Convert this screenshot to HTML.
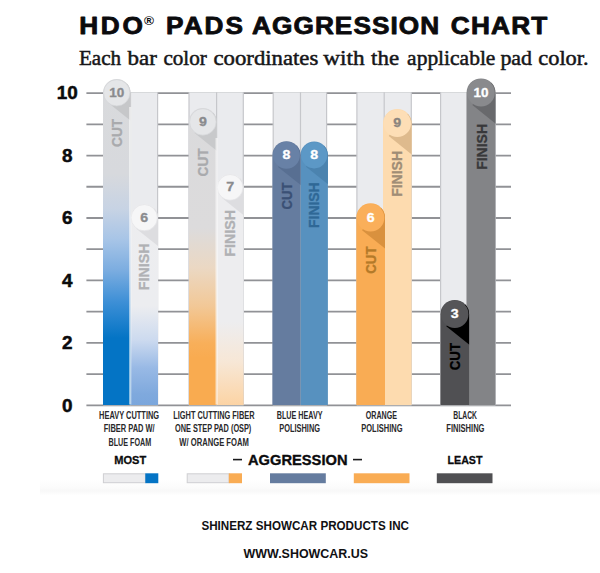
<!DOCTYPE html>
<html lang="en">
<head>
<meta charset="utf-8">
<title>HDO Pads Aggression Chart</title>
<style>
html, body { margin: 0; padding: 0; background: #ffffff; }
body { width: 600px; height: 573px; overflow: hidden; font-family: "Liberation Sans", sans-serif; }
svg text { white-space: pre; }
</style>
</head>
<body>
<svg width="600" height="573" viewBox="0 0 600 573" style="display:block">
<defs>
<linearGradient id="band" x1="0" y1="0" x2="0" y2="1">
<stop offset="0" stop-color="#ffffff"/><stop offset="0.45" stop-color="#fcfcfc"/>
<stop offset="0.72" stop-color="#f8f8f8"/><stop offset="1" stop-color="#ffffff"/></linearGradient>
<linearGradient id="g1c" gradientUnits="userSpaceOnUse" x1="0" y1="0" x2="0" y2="573"><stop offset="0.1379" stop-color="#d9dadc"/><stop offset="0.3037" stop-color="#d7d9dd"/><stop offset="0.3647" stop-color="#c7d3e4"/><stop offset="0.4171" stop-color="#a8c5e7"/><stop offset="0.4712" stop-color="#7cade0"/><stop offset="0.5271" stop-color="#3d8fd6"/><stop offset="0.5899" stop-color="#0474c5"/><stop offset="0.7086" stop-color="#0474c5"/></linearGradient>
<linearGradient id="g1f" gradientUnits="userSpaceOnUse" x1="0" y1="0" x2="0" y2="573"><stop offset="0.3560" stop-color="#ededef"/><stop offset="0.5340" stop-color="#ecedf0"/><stop offset="0.5934" stop-color="#ccdaef"/><stop offset="0.6422" stop-color="#98b9e5"/><stop offset="0.6876" stop-color="#7fa9dd"/><stop offset="0.7086" stop-color="#7aa6dc"/></linearGradient>
<linearGradient id="g2c" gradientUnits="userSpaceOnUse" x1="0" y1="0" x2="0" y2="573"><stop offset="0.1885" stop-color="#dadadc"/><stop offset="0.3979" stop-color="#dcdbdc"/><stop offset="0.4677" stop-color="#ebd8c3"/><stop offset="0.5340" stop-color="#f2c897"/><stop offset="0.5986" stop-color="#f8af5a"/><stop offset="0.6248" stop-color="#f9ab50"/><stop offset="0.7086" stop-color="#f9ab50"/></linearGradient>
<linearGradient id="g2f" gradientUnits="userSpaceOnUse" x1="0" y1="0" x2="0" y2="573"><stop offset="0.3002" stop-color="#ededef"/><stop offset="0.5620" stop-color="#ededef"/><stop offset="0.6318" stop-color="#f7e7d6"/><stop offset="0.7086" stop-color="#fcd3a3"/></linearGradient>
<clipPath id="cp_g1f"><path d="M130.50,404.90 L130.50,217.70 A13.75,13.75 0 0 1 158.00,217.70 L158.00,404.90 Z"/></clipPath>
<clipPath id="cp_g1c"><path d="M103.00,404.90 L103.00,92.80 A13.75,13.75 0 0 1 130.50,92.80 L130.50,404.90 Z"/></clipPath>
<clipPath id="cp_g2f"><path d="M216.60,404.90 L216.60,187.40 A13.50,13.50 0 0 1 243.60,187.40 L243.60,404.90 Z"/></clipPath>
<clipPath id="cp_g2c"><path d="M189.00,404.90 L189.00,121.90 A13.85,13.85 0 0 1 216.70,121.90 L216.70,404.90 Z"/></clipPath>
<clipPath id="cp_g3f"><path d="M300.50,404.90 L300.50,155.30 A13.70,13.70 0 0 1 327.90,155.30 L327.90,404.90 Z"/></clipPath>
<clipPath id="cp_g3c"><path d="M272.40,404.90 L272.40,155.30 A14.05,14.05 0 0 1 300.50,155.30 L300.50,404.90 Z"/></clipPath>
<clipPath id="cp_g4f"><path d="M383.00,404.90 L383.00,123.40 A14.30,14.30 0 0 1 411.60,123.40 L411.60,404.90 Z"/></clipPath>
<clipPath id="cp_g4c"><path d="M356.30,404.90 L356.30,217.70 A14.35,14.35 0 0 1 385.00,217.70 L385.00,404.90 Z"/></clipPath>
<clipPath id="cp_g5f"><path d="M466.60,404.90 L466.60,92.80 A14.40,14.40 0 0 1 495.40,92.80 L495.40,404.90 Z"/></clipPath>
<clipPath id="cp_g5c"><path d="M440.50,404.90 L440.50,314.20 A14.30,14.30 0 0 1 469.10,314.20 L469.10,404.90 Z"/></clipPath>
</defs>
<rect x="0" y="0" width="600" height="573" fill="#ffffff"/>
<rect x="40" y="479" width="560" height="16.5" fill="url(#band)"/>
<g transform="translate(79.2,33.9) scale(1.13,1)"><text x="0" y="0" font-family='"Liberation Sans", sans-serif' font-weight="700" font-size="23.2" fill="#0b0b0d" stroke="#0b0b0d" stroke-width="0.8" stroke-linejoin="round" textLength="56.4" lengthAdjust="spacing">HDO</text></g>
<g transform="translate(166.1,33.9) scale(1.13,1)"><text x="0" y="0" font-family='"Liberation Sans", sans-serif' font-weight="700" font-size="23.2" fill="#0b0b0d" stroke="#0b0b0d" stroke-width="0.8" stroke-linejoin="round" textLength="68.1" lengthAdjust="spacing">PADS</text></g>
<g transform="translate(252.1,33.9) scale(1.13,1)"><text x="0" y="0" font-family='"Liberation Sans", sans-serif' font-weight="700" font-size="23.2" fill="#0b0b0d" stroke="#0b0b0d" stroke-width="0.8" stroke-linejoin="round" textLength="165.5" lengthAdjust="spacing">AGGRESSION</text></g>
<g transform="translate(450.8,33.9) scale(1.13,1)"><text x="0" y="0" font-family='"Liberation Sans", sans-serif' font-weight="700" font-size="23.2" fill="#0b0b0d" stroke="#0b0b0d" stroke-width="0.8" stroke-linejoin="round" textLength="85.4" lengthAdjust="spacing">CHART</text></g>
<text x="144.0" y="25.4" font-family='"Liberation Sans", sans-serif' font-weight="700" font-size="12.6" fill="#0b0b0d" textLength="10" lengthAdjust="spacingAndGlyphs">&#174;</text>
<text x="78.9" y="65.0" font-family='"Liberation Serif", serif' font-size="21.5" fill="#161618" stroke="#161618" stroke-width="0.5" textLength="42.2" lengthAdjust="spacingAndGlyphs">Each</text>
<text x="127.6" y="65.0" font-family='"Liberation Serif", serif' font-size="21.5" fill="#161618" stroke="#161618" stroke-width="0.5" textLength="29.3" lengthAdjust="spacingAndGlyphs">bar</text>
<text x="163.4" y="65.0" font-family='"Liberation Serif", serif' font-size="21.5" fill="#161618" stroke="#161618" stroke-width="0.5" textLength="43.5" lengthAdjust="spacingAndGlyphs">color</text>
<text x="213.5" y="65.0" font-family='"Liberation Serif", serif' font-size="21.5" fill="#161618" stroke="#161618" stroke-width="0.5" textLength="104.8" lengthAdjust="spacingAndGlyphs">coordinates</text>
<text x="323.3" y="65.0" font-family='"Liberation Serif", serif' font-size="21.5" fill="#161618" stroke="#161618" stroke-width="0.5" textLength="41.3" lengthAdjust="spacingAndGlyphs">with</text>
<text x="371.1" y="65.0" font-family='"Liberation Serif", serif' font-size="21.5" fill="#161618" stroke="#161618" stroke-width="0.5" textLength="28.0" lengthAdjust="spacingAndGlyphs">the</text>
<text x="407.1" y="65.0" font-family='"Liberation Serif", serif' font-size="21.5" fill="#161618" stroke="#161618" stroke-width="0.5" textLength="88.3" lengthAdjust="spacingAndGlyphs">applicable</text>
<text x="500.4" y="65.0" font-family='"Liberation Serif", serif' font-size="21.5" fill="#161618" stroke="#161618" stroke-width="0.5" textLength="31.7" lengthAdjust="spacingAndGlyphs">pad</text>
<text x="538.3" y="65.0" font-family='"Liberation Serif", serif' font-size="21.5" fill="#161618" stroke="#161618" stroke-width="0.5" textLength="50.3" lengthAdjust="spacingAndGlyphs">color.</text>
<line x1="86.4" y1="405.30" x2="511" y2="405.30" stroke="#919296" stroke-width="1.8"/>
<line x1="86.4" y1="374.08" x2="511" y2="374.08" stroke="#919296" stroke-width="1.8"/>
<line x1="86.4" y1="342.86" x2="511" y2="342.86" stroke="#919296" stroke-width="1.8"/>
<line x1="86.4" y1="311.64" x2="511" y2="311.64" stroke="#919296" stroke-width="1.8"/>
<line x1="86.4" y1="280.42" x2="511" y2="280.42" stroke="#919296" stroke-width="1.8"/>
<line x1="86.4" y1="249.20" x2="511" y2="249.20" stroke="#919296" stroke-width="1.8"/>
<line x1="86.4" y1="217.98" x2="511" y2="217.98" stroke="#919296" stroke-width="1.8"/>
<line x1="86.4" y1="186.76" x2="511" y2="186.76" stroke="#919296" stroke-width="1.8"/>
<line x1="86.4" y1="155.54" x2="511" y2="155.54" stroke="#919296" stroke-width="1.8"/>
<line x1="86.4" y1="124.32" x2="511" y2="124.32" stroke="#919296" stroke-width="1.8"/>
<line x1="86.4" y1="93.10" x2="511" y2="93.10" stroke="#919296" stroke-width="1.8"/>
<text x="67.3" y="99.40" text-anchor="middle" font-family='"Liberation Sans", sans-serif' font-weight="700" font-size="18.9" fill="#0b0b0d" stroke="#0b0b0d" stroke-width="0.5">10</text>
<text x="67.3" y="161.84" text-anchor="middle" font-family='"Liberation Sans", sans-serif' font-weight="700" font-size="18.9" fill="#0b0b0d" stroke="#0b0b0d" stroke-width="0.5">8</text>
<text x="67.3" y="224.28" text-anchor="middle" font-family='"Liberation Sans", sans-serif' font-weight="700" font-size="18.9" fill="#0b0b0d" stroke="#0b0b0d" stroke-width="0.5">6</text>
<text x="67.3" y="286.72" text-anchor="middle" font-family='"Liberation Sans", sans-serif' font-weight="700" font-size="18.9" fill="#0b0b0d" stroke="#0b0b0d" stroke-width="0.5">4</text>
<text x="67.3" y="349.16" text-anchor="middle" font-family='"Liberation Sans", sans-serif' font-weight="700" font-size="18.9" fill="#0b0b0d" stroke="#0b0b0d" stroke-width="0.5">2</text>
<text x="67.3" y="411.60" text-anchor="middle" font-family='"Liberation Sans", sans-serif' font-weight="700" font-size="18.9" fill="#0b0b0d" stroke="#0b0b0d" stroke-width="0.5">0</text>
<rect x="103.6" y="92.30" width="54.00" height="313.00" fill="#eaebee"/>
<line x1="103.6" y1="92.30" x2="103.6" y2="405.30" stroke="#c6c7cb" stroke-width="1.2"/>
<line x1="130.5" y1="92.30" x2="130.5" y2="405.30" stroke="#c6c7cb" stroke-width="1.2"/>
<line x1="157.6" y1="92.30" x2="157.6" y2="405.30" stroke="#c6c7cb" stroke-width="1.2"/>
<rect x="189.0" y="92.30" width="54.30" height="313.00" fill="#eaebee"/>
<line x1="189.0" y1="92.30" x2="189.0" y2="405.30" stroke="#c6c7cb" stroke-width="1.2"/>
<line x1="216.6" y1="92.30" x2="216.6" y2="405.30" stroke="#c6c7cb" stroke-width="1.2"/>
<line x1="243.3" y1="92.30" x2="243.3" y2="405.30" stroke="#c6c7cb" stroke-width="1.2"/>
<rect x="273.2" y="92.30" width="53.40" height="313.00" fill="#eaebee"/>
<line x1="273.2" y1="92.30" x2="273.2" y2="405.30" stroke="#c6c7cb" stroke-width="1.2"/>
<line x1="300.5" y1="92.30" x2="300.5" y2="405.30" stroke="#c6c7cb" stroke-width="1.2"/>
<line x1="326.6" y1="92.30" x2="326.6" y2="405.30" stroke="#c6c7cb" stroke-width="1.2"/>
<rect x="356.9" y="92.30" width="54.40" height="313.00" fill="#eaebee"/>
<line x1="356.9" y1="92.30" x2="356.9" y2="405.30" stroke="#c6c7cb" stroke-width="1.2"/>
<line x1="384.2" y1="92.30" x2="384.2" y2="405.30" stroke="#c6c7cb" stroke-width="1.2"/>
<line x1="411.3" y1="92.30" x2="411.3" y2="405.30" stroke="#c6c7cb" stroke-width="1.2"/>
<rect x="440.6" y="92.30" width="54.60" height="313.00" fill="#eaebee"/>
<line x1="440.6" y1="92.30" x2="440.6" y2="405.30" stroke="#c6c7cb" stroke-width="1.2"/>
<line x1="467.0" y1="92.30" x2="467.0" y2="405.30" stroke="#c6c7cb" stroke-width="1.2"/>
<line x1="495.2" y1="92.30" x2="495.2" y2="405.30" stroke="#c6c7cb" stroke-width="1.2"/>
<path d="M130.50,404.90 L130.50,217.70 A13.75,13.75 0 0 1 158.00,217.70 L158.00,404.90 Z" fill="url(#g1f)"/>
<g clip-path="url(#cp_g1f)"><polygon points="136.04,228.47 159.00,246.84 159.00,203.95 144.25,217.70" fill="#dddde0"/></g>
<circle cx="144.25" cy="217.70" r="13.15" fill="#f6f6f7" stroke="#e2e2e5" stroke-width="0.7"/>
<text x="140.30" y="221.50" font-family='"Liberation Sans", sans-serif' font-weight="700" font-size="12" fill="#8a8b8e" stroke="#8a8b8e" stroke-width="0.3" textLength="7.9" lengthAdjust="spacingAndGlyphs">6</text>
<text transform="translate(149.35,290.20) rotate(-90)" font-family='"Liberation Sans", sans-serif' font-weight="700" font-size="14.2" fill="#b0b1b4" stroke="#b0b1b4" stroke-width="0.3" textLength="46.7" lengthAdjust="spacingAndGlyphs">FINISH</text>
<path d="M103.00,404.90 L103.00,92.80 A13.75,13.75 0 0 1 130.50,92.80 L130.50,404.90 Z" fill="url(#g1c)"/>
<g clip-path="url(#cp_g1c)"><polygon points="108.54,103.07 131.50,121.44 131.50,79.05 116.75,92.80" fill="#c6c7c9"/></g>
<circle cx="116.75" cy="92.80" r="13.15" fill="#e5e6e8" stroke="#d4d5d8" stroke-width="0.7"/>
<text x="109.25" y="96.60" font-family='"Liberation Sans", sans-serif' font-weight="700" font-size="12" fill="#8a8b8e" stroke="#8a8b8e" stroke-width="0.3" textLength="15.0" lengthAdjust="spacingAndGlyphs">10</text>
<text transform="translate(121.85,146.90) rotate(-90)" font-family='"Liberation Sans", sans-serif' font-weight="700" font-size="14.2" fill="#a9aaad" stroke="#a9aaad" stroke-width="0.3" textLength="28.1" lengthAdjust="spacingAndGlyphs">CUT</text>
<path d="M216.60,404.90 L216.60,187.40 A13.50,13.50 0 0 1 243.60,187.40 L243.60,404.90 Z" fill="url(#g2f)"/>
<g clip-path="url(#cp_g2f)"><polygon points="222.04,197.97 244.60,216.02 244.60,173.90 230.10,187.40" fill="#dddde0"/></g>
<circle cx="230.10" cy="187.40" r="12.90" fill="#f6f6f7" stroke="#e2e2e5" stroke-width="0.7"/>
<text x="226.15" y="191.20" font-family='"Liberation Sans", sans-serif' font-weight="700" font-size="12" fill="#8a8b8e" stroke="#8a8b8e" stroke-width="0.3" textLength="7.9" lengthAdjust="spacingAndGlyphs">7</text>
<text transform="translate(235.20,256.70) rotate(-90)" font-family='"Liberation Sans", sans-serif' font-weight="700" font-size="14.2" fill="#b0b1b4" stroke="#b0b1b4" stroke-width="0.3" textLength="46.7" lengthAdjust="spacingAndGlyphs">FINISH</text>
<path d="M189.00,404.90 L189.00,121.90 A13.85,13.85 0 0 1 216.70,121.90 L216.70,404.90 Z" fill="url(#g2c)"/>
<g clip-path="url(#cp_g2c)"><polygon points="194.57,133.05 217.70,151.55 217.70,108.05 202.85,121.90" fill="#c8c9cb"/></g>
<circle cx="202.85" cy="121.90" r="13.25" fill="#e5e6e8" stroke="#d4d5d8" stroke-width="0.7"/>
<text x="198.90" y="125.70" font-family='"Liberation Sans", sans-serif' font-weight="700" font-size="12" fill="#8a8b8e" stroke="#8a8b8e" stroke-width="0.3" textLength="7.9" lengthAdjust="spacingAndGlyphs">9</text>
<text transform="translate(207.95,176.40) rotate(-90)" font-family='"Liberation Sans", sans-serif' font-weight="700" font-size="14.2" fill="#a9aaad" stroke="#a9aaad" stroke-width="0.3" textLength="28.0" lengthAdjust="spacingAndGlyphs">CUT</text>
<path d="M300.50,404.90 L300.50,155.30 A13.70,13.70 0 0 1 327.90,155.30 L327.90,404.90 Z" fill="#5791bf"/>
<g clip-path="url(#cp_g3f)"><polygon points="306.02,166.73 328.90,185.04 328.90,141.60 314.20,155.30" fill="#4b83af"/></g>
<circle cx="314.20" cy="155.30" r="13.10" fill="#5c98c6"/>
<text x="310.25" y="159.10" font-family='"Liberation Sans", sans-serif' font-weight="700" font-size="12" fill="#ffffff" stroke="#ffffff" stroke-width="0.3" textLength="7.9" lengthAdjust="spacingAndGlyphs">8</text>
<text transform="translate(319.30,228.00) rotate(-90)" font-family='"Liberation Sans", sans-serif' font-weight="700" font-size="14.2" fill="#2f6896" stroke="#2f6896" stroke-width="0.3" textLength="45.7" lengthAdjust="spacingAndGlyphs">FINISH</text>
<path d="M272.40,404.90 L272.40,155.30 A14.05,14.05 0 0 1 300.50,155.30 L300.50,404.90 Z" fill="#657c9f"/>
<g clip-path="url(#cp_g3c)"><polygon points="278.05,167.00 301.50,185.76 301.50,141.25 286.45,155.30" fill="#586f92"/></g>
<circle cx="286.45" cy="155.30" r="13.45" fill="#6881a6"/>
<text x="282.50" y="159.10" font-family='"Liberation Sans", sans-serif' font-weight="700" font-size="12" fill="#ffffff" stroke="#ffffff" stroke-width="0.3" textLength="7.9" lengthAdjust="spacingAndGlyphs">8</text>
<text transform="translate(291.55,209.50) rotate(-90)" font-family='"Liberation Sans", sans-serif' font-weight="700" font-size="14.2" fill="#3a5075" stroke="#3a5075" stroke-width="0.3" textLength="26.9" lengthAdjust="spacingAndGlyphs">CUT</text>
<path d="M383.00,404.90 L383.00,123.40 A14.30,14.30 0 0 1 411.60,123.40 L411.60,404.90 Z" fill="#fddbaf"/>
<g clip-path="url(#cp_g4f)"><polygon points="388.74,136.10 412.60,155.18 412.60,109.10 397.30,123.40" fill="#deba8d"/></g>
<circle cx="397.30" cy="123.40" r="13.70" fill="#fddeb6"/>
<text x="393.35" y="127.20" font-family='"Liberation Sans", sans-serif' font-weight="700" font-size="12" fill="#8b857f" stroke="#8b857f" stroke-width="0.3" textLength="7.9" lengthAdjust="spacingAndGlyphs">9</text>
<text transform="translate(402.40,196.80) rotate(-90)" font-family='"Liberation Sans", sans-serif' font-weight="700" font-size="14.2" fill="#a08d76" stroke="#a08d76" stroke-width="0.3" textLength="45.8" lengthAdjust="spacingAndGlyphs">FINISH</text>
<path d="M356.30,404.90 L356.30,217.70 A14.35,14.35 0 0 1 385.00,217.70 L385.00,404.90 Z" fill="#f9ac54"/>
<g clip-path="url(#cp_g4c)"><polygon points="362.06,230.24 386.00,249.39 386.00,203.35 370.65,217.70" fill="#d9913e"/></g>
<circle cx="370.65" cy="217.70" r="13.75" fill="#faaf5a"/>
<text x="366.70" y="221.50" font-family='"Liberation Sans", sans-serif' font-weight="700" font-size="12" fill="#ffffff" stroke="#ffffff" stroke-width="0.3" textLength="7.9" lengthAdjust="spacingAndGlyphs">6</text>
<text transform="translate(375.75,273.80) rotate(-90)" font-family='"Liberation Sans", sans-serif' font-weight="700" font-size="14.2" fill="#b47a29" stroke="#b47a29" stroke-width="0.3" textLength="27.3" lengthAdjust="spacingAndGlyphs">CUT</text>
<path d="M466.60,404.90 L466.60,92.80 A14.40,14.40 0 0 1 495.40,92.80 L495.40,404.90 Z" fill="#838487"/>
<g clip-path="url(#cp_g5f)"><polygon points="472.38,105.08 496.40,124.29 496.40,78.40 481.00,92.80" fill="#68696c"/></g>
<circle cx="481.00" cy="92.80" r="13.80" fill="#898a8d"/>
<text x="473.50" y="96.60" font-family='"Liberation Sans", sans-serif' font-weight="700" font-size="12" fill="#ffffff" stroke="#ffffff" stroke-width="0.3" textLength="15.0" lengthAdjust="spacingAndGlyphs">10</text>
<text transform="translate(486.90,169.80) rotate(-90)" font-family='"Liberation Sans", sans-serif' font-weight="700" font-size="14.2" fill="#38383a" stroke="#38383a" stroke-width="0.3" textLength="45.8" lengthAdjust="spacingAndGlyphs">FINISH</text>
<path d="M440.50,404.90 L440.50,314.20 A14.30,14.30 0 0 1 469.10,314.20 L469.10,404.90 Z" fill="#505053"/>
<g clip-path="url(#cp_g5c)"><polygon points="446.24,326.20 470.10,345.28 470.10,299.90 454.80,314.20" fill="#000000"/></g>
<circle cx="454.80" cy="314.20" r="13.70" fill="#555558"/>
<text x="450.85" y="318.00" font-family='"Liberation Sans", sans-serif' font-weight="700" font-size="12" fill="#ffffff" stroke="#ffffff" stroke-width="0.3" textLength="7.9" lengthAdjust="spacingAndGlyphs">3</text>
<text transform="translate(459.90,370.30) rotate(-90)" font-family='"Liberation Sans", sans-serif' font-weight="700" font-size="14.2" fill="#000000" stroke="#000000" stroke-width="0.3" textLength="27.3" lengthAdjust="spacingAndGlyphs">CUT</text>
<line x1="130.2" y1="107" x2="130.2" y2="404.50" stroke="#ffffff" stroke-width="2.2" opacity="0.6"/>
<line x1="216.6" y1="138" x2="216.6" y2="404.50" stroke="#ffffff" stroke-width="2.2" opacity="0.6"/>
<text x="99.1" y="418.9" font-family='"Liberation Sans", sans-serif' font-weight="700" font-size="11.2" fill="#29292b" textLength="60.0" lengthAdjust="spacingAndGlyphs">HEAVY CUTTING</text>
<text x="103.8" y="432.4" font-family='"Liberation Sans", sans-serif' font-weight="700" font-size="11.2" fill="#29292b" textLength="50.9" lengthAdjust="spacingAndGlyphs">FIBER PAD W/</text>
<text x="108.5" y="445.8" font-family='"Liberation Sans", sans-serif' font-weight="700" font-size="11.2" fill="#29292b" textLength="42.7" lengthAdjust="spacingAndGlyphs">BLUE FOAM</text>
<text x="173.3" y="418.9" font-family='"Liberation Sans", sans-serif' font-weight="700" font-size="11.2" fill="#29292b" textLength="81.2" lengthAdjust="spacingAndGlyphs">LIGHT CUTTING FIBER</text>
<text x="175.0" y="432.4" font-family='"Liberation Sans", sans-serif' font-weight="700" font-size="11.2" fill="#29292b" textLength="76.3" lengthAdjust="spacingAndGlyphs">ONE STEP PAD (OSP)</text>
<text x="179.3" y="445.8" font-family='"Liberation Sans", sans-serif' font-weight="700" font-size="11.2" fill="#29292b" textLength="69.5" lengthAdjust="spacingAndGlyphs">W/ ORANGE FOAM</text>
<text x="276.8" y="418.9" font-family='"Liberation Sans", sans-serif' font-weight="700" font-size="11.2" fill="#29292b" textLength="45.7" lengthAdjust="spacingAndGlyphs">BLUE HEAVY</text>
<text x="279.3" y="432.4" font-family='"Liberation Sans", sans-serif' font-weight="700" font-size="11.2" fill="#29292b" textLength="40.7" lengthAdjust="spacingAndGlyphs">POLISHING</text>
<text x="365.8" y="418.9" font-family='"Liberation Sans", sans-serif' font-weight="700" font-size="11.2" fill="#29292b" textLength="31.2" lengthAdjust="spacingAndGlyphs">ORANGE</text>
<text x="361.3" y="432.4" font-family='"Liberation Sans", sans-serif' font-weight="700" font-size="11.2" fill="#29292b" textLength="41.2" lengthAdjust="spacingAndGlyphs">POLISHING</text>
<text x="453.3" y="418.9" font-family='"Liberation Sans", sans-serif' font-weight="700" font-size="11.2" fill="#29292b" textLength="23.7" lengthAdjust="spacingAndGlyphs">BLACK</text>
<text x="446.3" y="432.4" font-family='"Liberation Sans", sans-serif' font-weight="700" font-size="11.2" fill="#29292b" textLength="38.2" lengthAdjust="spacingAndGlyphs">FINISHING</text>
<text x="114.3" y="463.9" font-family='"Liberation Sans", sans-serif' font-weight="700" font-size="11.8" fill="#0b0b0d" stroke="#0b0b0d" stroke-width="0.3" textLength="31.9" lengthAdjust="spacingAndGlyphs">MOST</text>
<text x="447.5" y="463.9" font-family='"Liberation Sans", sans-serif' font-weight="700" font-size="11.8" fill="#0b0b0d" stroke="#0b0b0d" stroke-width="0.3" textLength="35" lengthAdjust="spacingAndGlyphs">LEAST</text>
<text x="248" y="464.6" font-family='"Liberation Sans", sans-serif' font-weight="700" font-size="15" fill="#0b0b0d" stroke="#0b0b0d" stroke-width="0.35" textLength="99.5" lengthAdjust="spacingAndGlyphs">AGGRESSION</text>
<line x1="233" y1="459.6" x2="242" y2="459.6" stroke="#1a1a1c" stroke-width="1.6"/>
<line x1="353" y1="459.6" x2="362" y2="459.6" stroke="#1a1a1c" stroke-width="1.6"/>
<rect x="103.4" y="473.8" width="42" height="8.9" fill="#ececee" stroke="#cfcfd2" stroke-width="1"/>
<rect x="145.3" y="473.3" width="13" height="9.9" fill="#0474c5"/>
<rect x="187.2" y="473.8" width="42" height="8.9" fill="#ececee" stroke="#cfcfd2" stroke-width="1"/>
<rect x="228.8" y="473.3" width="13.2" height="9.9" fill="#f9ac54"/>
<rect x="270" y="473.3" width="55.8" height="9.9" fill="#657c9f"/>
<rect x="353.8" y="473.3" width="55.7" height="9.9" fill="#f9ac54"/>
<rect x="436.8" y="473.3" width="55.7" height="9.9" fill="#505053"/>
<text x="201.4" y="529.8" font-family='"Liberation Sans", sans-serif' font-weight="700" font-size="13.3" fill="#111113" textLength="207.6" lengthAdjust="spacingAndGlyphs">SHINERZ SHOWCAR PRODUCTS INC</text>
<text x="243.6" y="557.6" font-family='"Liberation Sans", sans-serif' font-weight="700" font-size="13.3" fill="#111113" textLength="124.4" lengthAdjust="spacingAndGlyphs">WWW.SHOWCAR.US</text>
</svg>
</body>
</html>
